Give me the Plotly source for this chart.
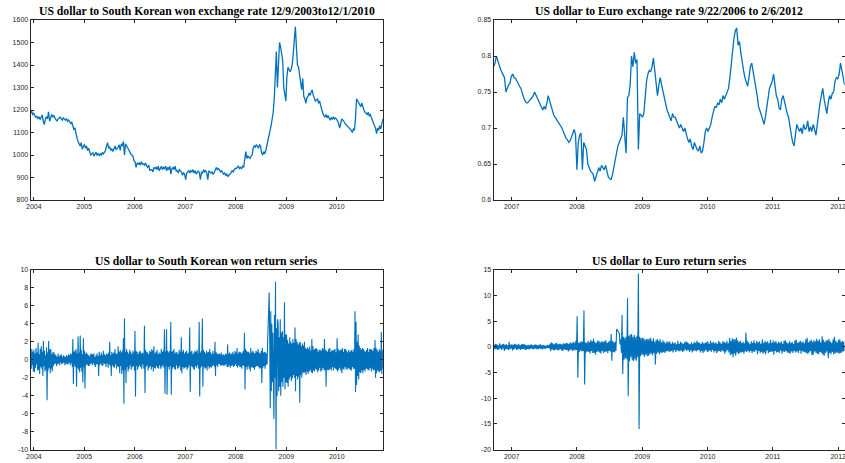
import pandas as pd
import plotly.graph_objects as go

# ---------------- data ----------------
KRW_START, KRW_END = "2003-12-09", "2010-12-01"
EUR_START, EUR_END = "2006-09-22", "2012-02-06"

# weekly readings of the USD/KRW level
KRW_LEVEL = [
    1185, 1195, 1180,
    1185, 1175, 1168, 1172, 1160, 1170, 1158, 1168, 1178, 1150, 1135, 1160,
    1170, 1160, 1192, 1150, 1165, 1180, 1170, 1175, 1165, 1158, 1150, 1160,
    1162, 1168, 1158, 1155, 1165, 1160, 1155, 1162, 1150, 1155, 1148, 1140,
    1145, 1130, 1115, 1120, 1090, 1075, 1060, 1045, 1040, 1055, 1025, 1040,
    1045, 1030, 1040, 1020, 1030, 1015, 1000, 1005, 1010, 995, 1005, 1012,
    1000, 1005, 998, 1005, 1000, 1010, 1005, 1015, 1020, 1040, 1055, 1030,
    1035, 1020, 1028, 1015, 1030, 1040, 1025, 1030, 1035, 1045, 1020, 1050,
    1040, 1060, 1000, 1050, 1040, 1035, 1025, 1015, 1005, 1000, 995, 975,
    970, 945, 965, 960, 965, 955, 970, 960, 960, 955, 965, 950,
    945, 955, 930, 935, 935, 925, 945, 940, 945, 935, 950, 930,
    940, 950, 935, 945, 940, 950, 930, 945, 935, 950, 915, 940,
    945, 935, 950, 930, 930, 920, 935, 930, 925, 910, 920, 915,
    890, 920, 925, 930, 920, 930, 925, 935, 920, 930, 915, 925,
    930, 920, 890, 925, 920, 935, 925, 930, 920, 890, 930, 925,
    920, 925, 915, 920, 930, 945, 935, 940, 935, 925, 930, 920,
    915, 920, 910, 915, 905, 910, 915, 920, 930, 925, 935, 940,
    940, 945, 950, 940, 945, 940, 950, 945, 990, 1015, 985, 995,
    990, 985, 995, 1000, 1030, 1040, 1035, 1045, 1040, 1030, 1045, 1040,
    1010, 1000, 1015, 1005, 1020, 1040, 1060, 1080, 1100, 1130, 1160, 1190,
    1250, 1400, 1460, 1300, 1410, 1500, 1480, 1450, 1420, 1300, 1260, 1240,
    1350, 1390, 1380, 1370, 1380, 1400, 1450, 1500, 1570, 1480, 1400, 1390,
    1350, 1330, 1290, 1340, 1260, 1250, 1230, 1255, 1260, 1275, 1265, 1280,
    1290, 1265, 1250, 1240, 1245, 1250, 1230, 1240, 1220, 1200, 1185, 1175,
    1170, 1180, 1165, 1175, 1160, 1155, 1165, 1160, 1170, 1160, 1165, 1160,
    1150, 1140, 1120, 1145, 1160, 1155, 1150, 1140, 1135, 1130, 1125, 1120,
    1115, 1110, 1100, 1115, 1110, 1160, 1250, 1240, 1230, 1220, 1215, 1230,
    1210, 1200, 1190, 1185, 1180, 1190, 1175, 1180, 1165, 1160, 1145, 1130,
    1120, 1095, 1120, 1110, 1130, 1115, 1140, 1160,
]

# returns, eight readings per month (Dec 2003 .. Nov 2010)
KRW_RETURN = [
    0.8, -1.0, 1.2, -0.6, 0.9, -1.3,
    1.1, -1.4, 0.7, -0.9, 1.3, -0.5, 0.8, -1.2,
    1.9, -1.1, 0.6, -1.6, 1.2, -0.8, 1.5, -1.0,
    0.9, -1.8, 2.1, -0.7, 1.0, -1.3, 0.5, -1.1,
    1.4, -4.5, 0.8, -1.2, 2.1, -0.9, 1.1, -1.5,
    1.2, -1.0, 0.6, -1.3, 0.9, -0.7, 0.8, -0.5,
    0.6, -0.4, 0.5, -0.7, 0.3, -0.5, 0.7, -0.4,
    0.4, -0.6, 0.5, -0.3, 0.6, -0.5, 0.3, -0.4,
    0.5, -0.3, 0.4, -0.6, 0.3, -0.4, 0.5, -0.5,
    0.4, -0.5, 0.6, -0.3, 0.5, -0.6, 0.7, -0.4,
    0.6, -0.8, 2.3, -2.7, 0.9, -0.6, 1.0, -0.8,
    1.2, -3.0, 0.7, -0.9, 2.6, -1.1, 0.8, -1.4,
    2.7, -0.9, 1.1, -1.3, 0.6, -2.5, 2.4, -0.8,
    1.0, -3.2, 0.7, -0.6, 0.8, -0.5, 0.6, -0.7,
    0.5, -0.7, 0.4, -0.5, 0.7, -0.4, 0.6, -0.6,
    0.6, -0.4, 0.7, -0.6, 0.3, -0.8, 0.5, -0.5,
    0.7, -0.5, 0.4, -1.8, 0.9, -0.6, 0.5, -0.4,
    0.8, -0.6, 0.5, -0.7, 1.0, -0.4, 0.6, -0.5,
    0.5, -0.8, 0.7, -0.4, 0.6, -0.9, 0.8, -0.5,
    2.0, -0.7, 0.5, -1.8, 0.9, -0.6, 0.7, -0.8,
    0.8, -0.9, 1.2, -0.5, 0.7, -1.0, 0.6, -0.7,
    1.5, -0.8, 0.9, -1.5, 1.1, -0.7, 0.8, -1.6,
    1.0, -1.2, 2.4, -4.9, 4.6, -1.1, 0.9, -2.6,
    1.2, -0.8, 0.9, -1.3, 0.7, -1.0, 1.1, -0.6,
    0.9, -1.1, 0.6, -0.8, 1.0, -0.7, 0.8, -1.2,
    3.2, -4.1, 1.0, -0.7, 0.9, -1.1, 0.6, -0.8,
    0.9, -0.6, 1.0, -0.8, 0.7, -1.0, 0.8, -0.5,
    0.7, -1.0, 3.8, -3.7, 1.1, -0.8, 0.9, -0.6,
    0.8, -1.2, 0.6, -0.9, 1.0, -0.7, 0.9, -1.1,
    1.2, -0.8, 1.0, -1.3, 1.5, -0.9, 0.7, -1.0,
    0.9, -0.7, 1.1, -0.9, 0.6, -1.0, 0.8, -0.6,
    0.7, -1.0, 1.2, -0.8, 0.9, -0.6, 1.0, -0.9,
    3.4, -3.8, 0.9, -0.7, 3.4, -3.9, 1.0, -0.8,
    0.8, -1.1, 1.0, -0.7, 4.2, -3.9, 0.9, -1.0,
    1.0, -0.8, 1.2, -1.0, 0.7, -1.1, 0.9, -0.6,
    0.8, -1.0, 0.6, -0.9, 1.1, -0.7, 0.9, -1.2,
    2.5, -1.5, 0.9, -0.8, 1.1, -1.0, 0.7, -0.9,
    0.9, -0.8, 1.0, -1.1, 0.7, -0.9, 0.8, -0.6,
    3.6, -3.6, 0.9, -0.7, 1.0, -0.8, 0.6, -1.0,
    0.8, -1.1, 1.0, -0.7, 0.9, -0.9, 1.1, -0.6,
    0.7, -1.0, 4.2, -4.1, 0.8, -0.9, 1.0, -0.7,
    4.6, -3.0, 1.1, -0.8, 0.9, -1.0, 0.7, -0.9,
    1.0, -1.2, 0.8, -0.7, 0.9, -1.0, 1.2, -0.8,
    0.8, -0.9, 0.6, -0.7, 1.0, -0.6, 0.7, -0.8,
    2.0, -1.8, 0.9, -0.6, 0.7, -0.8, 0.6, -0.5,
    0.7, -0.5, 0.6, -0.7, 0.8, -0.6, 0.5, -0.6,
    0.6, -0.7, 0.5, -0.6, 0.7, -0.5, 0.6, -0.8,
    1.7, -0.8, 0.7, -0.6, 0.8, -0.9, 0.6, -0.7,
    0.7, -0.6, 0.9, -0.8, 0.6, -0.7, 1.0, -0.5,
    0.8, -0.7, 1.3, -0.9, 0.7, -0.6, 0.9, -0.8,
    0.9, -0.8, 0.7, -1.0, 0.8, -0.6, 1.0, -0.7,
    3.0, -3.3, 1.2, -0.8, 1.0, -1.1, 0.9, -0.7,
    0.9, -1.0, 0.7, -1.3, 1.3, -0.8, 0.8, -0.9,
    1.0, -0.9, 0.8, -1.1, 0.7, -0.8, 1.0, -0.7,
    0.9, -0.7, 1.2, -0.8, 0.8, -1.0, 0.7, -0.9,
    1.0, -2.6, 1.3, -0.9, 0.8, -0.7, 0.9, -1.0,
    0.8, -0.6, 0.7, -0.5, 2.0, 4.0, 6.0, 7.5,
    2.0, -5.4, 5.4, -3.5, 4.0, -2.5, 3.0, -3.0,
    -6.6, 5.0, -2.0, 8.7, -10.0, 3.5, -4.0, 4.5,
    4.0, -3.5, 2.5, -3.0, 4.5, -4.0, 3.0, -2.5,
    3.2, -3.0, 2.5, -2.0, 6.4, -3.3, 2.8, -2.5,
    2.8, -2.6, 2.2, -3.0, 1.8, -2.2, 2.5, -1.9,
    2.0, -2.4, 1.8, -2.1, 2.3, -1.7, 1.9, -2.0,
    3.6, -3.5, 2.3, -1.8, 2.0, -2.2, 1.7, -1.9,
    1.9, -4.8, 2.0, -1.7, 1.5, -2.0, 1.8, -1.4,
    1.6, -1.5, 2.0, -1.4, 1.3, -1.7, 1.2, -1.3,
    1.4, -1.6, 1.2, -1.3, 1.5, -1.1, 1.0, -1.4,
    2.3, -1.5, 1.5, -1.2, 1.1, -1.3, 1.2, -1.0,
    1.3, -1.1, 1.2, -1.4, 0.9, -1.2, 1.1, -0.9,
    1.1, -1.3, 1.0, -1.2, 1.3, -0.9, 1.2, -1.1,
    2.3, -1.2, 1.1, -3.0, 1.0, -1.1, 0.9, -1.2,
    1.2, -1.1, 1.3, -1.0, 0.9, -1.2, 1.1, -0.8,
    1.0, -1.2, 1.1, -0.9, 1.2, -1.0, 0.8, -1.1,
    2.4, -1.3, 1.2, -1.1, 1.0, -0.9, 1.1, -1.2,
    1.1, -1.5, 1.3, -1.0, 0.9, -1.1, 1.2, -0.8,
    1.2, -1.0, 1.0, -1.1, 0.8, -0.9, 1.1, -1.0,
    0.9, -1.1, 1.0, -1.2, 1.1, -0.8, 0.9, -1.0,
    1.2, -1.0, 5.4, -3.6, 4.2, -2.8, 2.0, -1.8,
    2.8, -2.2, 1.6, -1.4, 1.3, -1.5, 1.1, -1.2,
    1.3, -1.5, 1.2, -1.1, 1.0, -1.3, 0.9, -1.0,
    1.1, -1.0, 1.3, -1.2, 0.9, -1.1, 1.2, -0.9,
    1.2, -1.3, 1.1, -1.0, 1.0, -1.2, 1.3, -1.1,
    2.2, -2.0, 1.3, -1.5, 1.1, -1.2, 0.9, -1.3,
    1.2, -1.4, 1.0, -1.2, 3.1, -1.6, 1.1, -1.0,
]

# weekly readings of the USD/EUR level
EUR_LEVEL = [
    0.785,
    0.790, 0.800, 0.795, 0.788, 0.782, 0.778, 0.772, 0.770, 0.750, 0.755, 0.760, 0.762,
    0.772, 0.775, 0.770, 0.769, 0.765, 0.760, 0.758, 0.755, 0.748, 0.742, 0.738, 0.735,
    0.735, 0.738, 0.740, 0.742, 0.745, 0.750, 0.746, 0.742, 0.738, 0.733, 0.728, 0.725,
    0.730, 0.726, 0.735, 0.745, 0.738, 0.730, 0.722, 0.718, 0.715, 0.712, 0.708, 0.705,
    0.702, 0.700, 0.695, 0.690, 0.686, 0.684, 0.680, 0.682, 0.688, 0.695, 0.698, 0.690,
    0.642, 0.680, 0.690, 0.693, 0.642, 0.680, 0.675, 0.670, 0.650, 0.645, 0.640, 0.638,
    0.635, 0.626, 0.632, 0.640, 0.645, 0.640, 0.648, 0.645, 0.642, 0.648, 0.640, 0.632,
    0.630, 0.628, 0.635, 0.645, 0.660, 0.668, 0.675, 0.680, 0.685, 0.690, 0.715, 0.688,
    0.665, 0.742, 0.745, 0.760, 0.800, 0.785, 0.805, 0.790, 0.795, 0.670, 0.720, 0.718,
    0.715, 0.720, 0.750, 0.765, 0.775, 0.780, 0.778, 0.785, 0.797, 0.780, 0.755, 0.745,
    0.760, 0.770, 0.760, 0.750, 0.740, 0.735, 0.725, 0.720, 0.715, 0.710, 0.720, 0.715,
    0.715, 0.710, 0.705, 0.700, 0.705, 0.700, 0.695, 0.700, 0.690, 0.685, 0.680, 0.685,
    0.675, 0.670, 0.680, 0.675, 0.670, 0.668, 0.675, 0.665, 0.668, 0.680, 0.695, 0.700,
    0.695, 0.700, 0.705, 0.715, 0.725, 0.730, 0.728, 0.735, 0.732, 0.740, 0.735, 0.745,
    0.740, 0.745, 0.750, 0.755, 0.770, 0.790, 0.810, 0.825, 0.835, 0.839, 0.815, 0.820,
    0.805, 0.790, 0.780, 0.770, 0.765, 0.758, 0.770, 0.785, 0.790, 0.780, 0.768, 0.760,
    0.745, 0.730, 0.725, 0.718, 0.712, 0.705, 0.715, 0.730, 0.745, 0.755, 0.760, 0.765,
    0.775, 0.760, 0.745, 0.740, 0.728, 0.725, 0.740, 0.745, 0.735, 0.728, 0.720, 0.715,
    0.700, 0.690, 0.680, 0.675, 0.690, 0.705, 0.700, 0.695, 0.700, 0.692, 0.705, 0.698,
    0.700, 0.710, 0.695, 0.702, 0.695, 0.705, 0.698, 0.690, 0.705, 0.725, 0.735, 0.745,
    0.755, 0.740, 0.730, 0.720, 0.735, 0.745, 0.740, 0.748, 0.750, 0.765, 0.770, 0.768,
    0.775, 0.790, 0.780, 0.770, 0.760,
]

# returns, eight readings per month (late Sep 2006 .. early Feb 2012)
EUR_RETURN = [
    0.4, -0.5,
    0.6, -0.4, 0.5, -0.6, 0.3, -0.5, 0.7, -0.3,
    0.4, -0.6, 0.5, -0.3, 0.6, -0.8, 0.4, -0.5,
    0.5, -0.4, 0.3, -0.6, 1.0, -0.5, 0.4, -0.3,
    0.5, -0.7, 0.4, -0.5, 0.6, -0.3, 0.5, -0.6,
    0.4, -0.5, 0.6, -0.4, 0.3, -0.6, 0.5, -0.4,
    0.6, -0.4, 0.5, -0.5, 0.4, -0.6, 0.3, -0.4,
    0.4, -0.5, 0.3, -0.4, 0.5, -0.3, 0.4, -0.5,
    0.3, -0.4, 0.5, -0.3, 0.4, -0.5, 0.3, -0.4,
    0.4, -0.3, 0.5, -0.4, 0.3, -0.5, 0.4, -0.3,
    0.3, -0.4, 0.2, -0.3, 0.4, -0.2, 0.3, -0.3,
    0.6, -0.8, 0.9, -0.5, 0.7, -0.6, 0.5, -0.7,
    0.7, -0.5, 0.8, -0.6, 0.5, -0.7, 0.6, -0.4,
    0.6, -0.7, 0.5, -0.8, 0.7, -0.5, 0.6, -0.6,
    0.8, -0.6, 0.7, -0.9, 0.6, -0.7, 0.9, -0.5,
    0.7, -0.8, 1.0, -0.6, 0.8, -0.7, 1.2, -0.6,
    6.0, -6.0, 0.8, -1.0, 0.9, -0.7, 1.1, -0.9,
    1.0, -0.8, 7.1, -7.3, 0.9, -1.1, 0.8, -0.9,
    1.2, -1.0, 0.9, -1.3, 1.4, -0.8, 1.1, -1.2,
    1.6, -1.2, 1.0, -1.5, 0.8, -1.0, 1.2, -0.9,
    1.2, -1.1, 0.9, -1.3, 1.1, -0.8, 1.0, -1.2,
    1.1, -1.0, 1.3, -0.9, 0.8, -1.2, 1.0, -0.8,
    1.2, -0.9, 2.5, -2.7, 1.2, -1.0, 0.9, -1.1,
    1.0, -0.8, 3.5, 3.3, 3.1, 2.8, 2.6, 0.5,
    1.5, -1.2, 6.2, -5.3, 2.0, -2.5, 1.8, -2.2,
    2.0, -2.4, 9.5, -9.6, 2.2, -2.8, 2.4, -2.0,
    2.5, -2.6, 2.0, -2.8, 2.3, -2.4, 1.9, -2.7,
    2.2, -2.0, 14.3, -16.0, 2.0, -1.8, 1.7, -1.5,
    1.8, -1.6, 1.7, -1.9, 1.4, -1.5, 1.6, -1.8,
    1.5, -1.7, 1.6, -1.4, 1.8, -1.3, 1.2, -1.6,
    1.7, -1.2, 1.0, -3.4, 1.4, -1.3, 1.5, -1.1,
    1.2, -1.4, 1.5, -1.1, 0.9, -1.2, 1.3, -1.0,
    1.0, -1.2, 0.7, -0.9, 1.1, -0.8, 0.9, -1.0,
    1.1, -0.9, 0.6, -0.8, 1.0, -1.1, 0.7, -0.6,
    0.9, -1.0, 0.5, -0.7, 1.2, -0.8, 0.6, -0.9,
    1.0, -0.7, 0.8, -1.0, 0.6, -0.8, 0.9, -0.5,
    1.1, -0.8, 0.9, -0.6, 0.7, -1.0, 0.5, -0.7,
    0.9, -1.1, 0.6, -0.8, 1.0, -0.7, 0.8, -0.9,
    1.2, -0.7, 0.9, -0.6, 0.8, -1.1, 0.6, -0.8,
    1.0, -1.2, 0.7, -0.9, 0.8, -0.6, 0.9, -1.0,
    1.1, -0.9, 0.6, -0.7, 1.2, -1.0, 0.8, -0.6,
    1.0, -1.1, 0.7, -0.8, 0.9, -1.2, 0.6, -0.9,
    1.2, -0.8, 0.9, -1.0, 0.6, -0.7, 1.1, -0.9,
    1.0, -1.3, 0.8, -0.9, 1.2, -0.6, 0.7, -1.1,
    1.8, -1.6, 1.2, -1.4, 1.7, -2.0, 1.5, -1.3,
    1.5, -1.7, 1.8, -1.1, 1.3, -1.4, 1.0, -1.2,
    1.2, -1.1, 0.8, -1.0, 1.0, -1.3, 0.7, -0.9,
    2.8, -1.0, 1.2, -0.8, 0.9, -1.1, 0.6, -0.8,
    1.1, -1.2, 0.8, -0.9, 1.3, -1.0, 0.7, -0.6,
    1.2, -1.4, 0.9, -0.8, 1.1, -1.2, 0.6, -1.0,
    1.5, -1.3, 0.8, -1.1, 1.2, -1.4, 0.9, -0.7,
    1.1, -1.2, 0.7, -1.0, 1.4, -1.0, 0.8, -0.9,
    1.3, -1.5, 0.9, -0.8, 1.2, -1.1, 0.7, -1.0,
    1.0, -1.2, 0.8, -0.7, 1.1, -1.3, 0.6, -0.9,
    1.2, -1.0, 1.3, -0.8, 0.9, -1.1, 0.7, -1.2,
    1.1, -1.3, 0.8, -0.9, 1.0, -1.2, 0.6, -0.8,
    1.3, -1.1, 1.4, -0.9, 0.8, -1.2, 1.0, -0.7,
    1.2, -1.3, 0.9, -0.8, 1.1, -1.0, 0.7, -1.1,
    1.5, -1.2, 1.8, -1.4, 0.9, -1.1, 1.2, -0.8,
    1.4, -1.6, 1.0, -1.5, 1.3, -0.9, 1.1, -1.2,
    1.6, -1.3, 1.2, -1.4, 1.5, -1.0, 0.9, -1.2,
    2.1, -1.5, 1.4, -1.7, 1.0, -1.2, 1.3, -0.9,
    1.3, -2.2, 1.6, -1.2, 1.1, -1.4, 0.8, -1.0,
    1.5, -1.4, 2.0, -1.3, 1.2, -1.1, 0.9, -1.2,
    1.4, -1.3, 1.5, -1.2, 1.0, -1.1, 1.2, -0.9,
    1.0, -0.8,
]

KRW_YEARS = ["2004", "2005", "2006", "2007", "2008", "2009", "2010"]
EUR_YEARS = ["2007", "2008", "2009", "2010", "2011", "2012"]

KRW_LEVEL_TICKS = [800, 900, 1000, 1100, 1200, 1300, 1400, 1500, 1600]
EUR_LEVEL_TICKS = [0.6, 0.65, 0.7, 0.75, 0.8, 0.85]
EUR_LEVEL_LABELS = ["0.6", "0.65", "0.7", "0.75", "0.8", "0.85"]
KRW_RET_TICKS = [-10, -8, -6, -4, -2, 0, 2, 4, 6, 8, 10]
EUR_RET_TICKS = [-20, -15, -10, -5, 0, 5, 10, 15]

TITLES = [
    "US dollar to South Korean won exchange rate 12/9/2003to12/1/2010",
    "US dollar to Euro exchange rate 9/22/2006 to 2/6/2012",
    "US dollar to South Korean won return series",
    "US dollar to Euro return series",
]

# ---------------- figure ----------------
W, H = 845, 463
LINE = "#0072BD"
AX = "#262626"


def px_x(a, b):
    return [a / W, b / W]


def px_y(top, bottom):
    return [1 - bottom / H, 1 - top / H]


dom_x = [px_x(30.6, 382.9), px_x(493.6, 844.6)]
dom_y = [px_y(20, 200), px_y(270, 449.5)]

fig = go.Figure()

panels = [
    (KRW_LEVEL, KRW_START, KRW_END, KRW_YEARS, KRW_LEVEL_TICKS,
     [str(v) for v in KRW_LEVEL_TICKS], [800, 1600], 0, 0, 1.3),
    (EUR_LEVEL, EUR_START, EUR_END, EUR_YEARS, EUR_LEVEL_TICKS,
     EUR_LEVEL_LABELS, [0.6, 0.85], 1, 0, 1.3),
    (KRW_RETURN, "2003-12-10", KRW_END, KRW_YEARS, KRW_RET_TICKS,
     [str(v) for v in KRW_RET_TICKS], [-10, 10], 0, 1, 1.1),
    (EUR_RETURN, "2006-09-25", EUR_END, EUR_YEARS, EUR_RET_TICKS,
     [str(v) for v in EUR_RET_TICKS], [-20, 15], 1, 1, 1.1),
]
axis_start = [KRW_START, EUR_START]

common = dict(
    showline=True, linecolor=AX, linewidth=1, mirror="ticks",
    ticks="inside", ticklen=3, tickwidth=1, tickcolor=AX,
    showgrid=False, zeroline=False, automargin=False,
    ticklabeloverflow="allow",
    tickfont=dict(family="Liberation Sans, Arial, sans-serif", size=7, color=AX),
)

for i, (vals, s, e, years, yt, ytl, yr, cx, ry, lw) in enumerate(panels):
    n = i + 1
    xs = pd.date_range(s, e, periods=len(vals))
    xa = "x" if n == 1 else f"x{n}"
    ya = "y" if n == 1 else f"y{n}"
    fig.add_trace(go.Scatter(x=xs, y=vals, mode="lines",
                             line=dict(color=LINE, width=lw),
                             xaxis=xa, yaxis=ya, showlegend=False,
                             hoverinfo="skip"))
    xkey = "xaxis" if n == 1 else f"xaxis{n}"
    ykey = "yaxis" if n == 1 else f"yaxis{n}"
    fig.update_layout(**{
        xkey: dict(common, domain=dom_x[cx], anchor=ya, type="date",
                   range=[axis_start[cx], e],
                   tickvals=[pd.Timestamp(f"{y}-01-01") for y in years],
                   ticktext=years),
        ykey: dict(common, domain=dom_y[ry], anchor=xa, range=yr,
                   tickvals=yt, ticktext=ytl),
    })
    fig.add_annotation(
        text=f"<b>{TITLES[i]}</b>", showarrow=False,
        x=sum(dom_x[cx]) / 2, xref="paper", xanchor="center",
        y=dom_y[ry][1], yref="paper", yanchor="bottom", yshift=0,
        font=dict(family="Liberation Serif, Times New Roman, serif", size=11.7, color="#000000"),
    )

fig.update_layout(
    width=W, height=H, margin=dict(l=0, r=0, t=0, b=0),
    paper_bgcolor="white", plot_bgcolor="white",
)

# remove the browser's default 8 px page margin so the figure fills the window
fig.write_html(
    "out.html",
    config={"displayModeBar": False},
    post_script="document.body.style.margin='0';document.body.style.overflow='hidden';",
)
